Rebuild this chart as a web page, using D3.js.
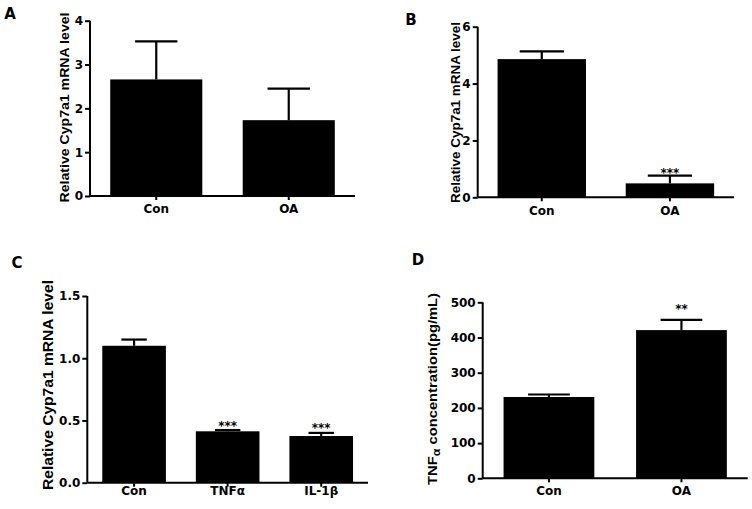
<!DOCTYPE html>
<html><head><meta charset="utf-8">
<script src="https://cdn.jsdelivr.net/npm/d3@7/dist/d3.min.js"></script>
<style>
html,body{margin:0;padding:0;background:#fff;}
svg{display:block;font-family:"DejaVu Sans",Arial,sans-serif;font-weight:bold;}
</style></head>
<body>
<svg id="c" width="752" height="509"></svg>
<script>
// ---- data ----
const catsA = ["Con", "OA"];
const valsA = [2.66, 1.73];
const errsA = [0.87, 0.72];
const sigA = ["", ""];
const ticksA = [0, 1, 2, 3, 4];

const catsB = ["Con", "OA"];
const valsB = [4.86, 0.49];
const errsB = [0.27, 0.27];
const sigB = ["", "***"];
const ticksB = [0, 2, 4, 6];

const catsC = ["Con", "TNFα", "IL-1β"];
const valsC = [1.10, 0.413, 0.375];
const errsC = [0.05, 0.01, 0.025];
const sigC = ["", "***", "***"];
const ticksC = [0, 0.5, 1.0, 1.5];

const catsD = ["Con", "OA"];
const valsD = [231, 421];
const errsD = [7, 29];
const sigD = ["", "**"];
const ticksD = [0, 100, 200, 300, 400, 500];

const yLabelCyp = "Relative Cyp7a1 mRNA level";

// ---- layout ----
const FONT = "'DejaVu Sans',Arial,sans-serif";
const LFONT = "'Liberation Sans',Arial,sans-serif";
const panels = [
  {letter:"A", lx:10, ly:19, cats:catsA, vals:valsA, errs:errsA, sig:sigA, ticks:ticksA, dom:[0,4], fmt:d3.format("d"),
   x0:90, x1:355, y0:196, y1:20.7, pad:0.305, cap:0.23, yl:{x:69, y:107.5, len:190, fs:13.5}, xlb:213, starOff:0},
  {letter:"B", lx:411, ly:25, cats:catsB, vals:valsB, errs:errsB, sig:sigB, ticks:ticksB, dom:[0,6], fmt:d3.format("d"),
   x0:477.7, x1:734, y0:197.3, y1:26.7, pad:0.31, cap:0.25, yl:{x:460, y:112.5, len:181, fs:12.5}, xlb:215, starOff:1},
  {letter:"C", lx:17, ly:268, cats:catsC, vals:valsC, errs:errsC, sig:sigC, ticks:ticksC, dom:[0,1.5], fmt:d3.format(".1f"),
   x0:87.3, x1:368, y0:482.7, y1:296, pad:0.32, cap:0.2, yl:{x:53, y:385, len:210, fs:14.5}, xlb:495, starOff:-0.5},
  {letter:"D", lx:418, ly:265, cats:catsD, vals:valsD, errs:errsD, sig:sigD, ticks:ticksD, dom:[0,500], fmt:d3.format("d"),
   x0:482.7, x1:747.7, y0:478.3, y1:302.3, pad:0.315, cap:0.23, yl:{x:437, y:389, len:192, fs:13.5, tnf:true}, xlb:495, starOff:-6.5}
];

const svg = d3.select("#c");

panels.forEach(p => {
  const g = svg.append("g");
  const x = d3.scaleBand().domain(p.cats).range([p.x0, p.x1]).paddingInner(p.pad).paddingOuter(p.pad/2);
  const y = d3.scaleLinear().domain(p.dom).range([p.y0, p.y1]);
  const bw = x.bandwidth();

  // bars
  g.selectAll("rect.bar").data(p.vals).enter().append("rect")
    .attr("x", (d,i) => x(p.cats[i])).attr("width", bw)
    .attr("y", d => y(d)).attr("height", d => y(0) - y(d))
    .attr("fill", "#000");

  // error bars (upper only)
  p.vals.forEach((v,i) => {
    const cx = x(p.cats[i]) + bw/2;
    const top = y(v + p.errs[i]);
    g.append("line").attr("x1", cx).attr("x2", cx).attr("y1", y(v)).attr("y2", top)
      .attr("stroke", "#000").attr("stroke-width", 2.2);
    g.append("line").attr("x1", cx - bw*p.cap).attr("x2", cx + bw*p.cap).attr("y1", top).attr("y2", top)
      .attr("stroke", "#000").attr("stroke-width", 2.2);
    if (p.sig[i]) {
      g.append("text").attr("x", cx).attr("y", top + p.starOff)
        .attr("text-anchor", "middle").attr("font-size", 12).text(p.sig[i]);
    }
  });

  // y axis
  const ya = d3.axisLeft(y).tickValues(p.ticks).tickFormat(p.fmt).tickSize(5).tickPadding(2);
  const yg = g.append("g").attr("transform", `translate(${p.x0},0)`).call(ya);
  yg.select(".domain").attr("d", `M-0,${p.y1}V${p.y0}`).attr("stroke-width", 2);
  yg.selectAll(".tick line").attr("stroke-width", 2);
  yg.selectAll(".tick text").attr("font-size", 12).attr("font-weight", "bold")
    .attr("font-family", FONT).attr("fill", "#000");

  // x axis
  const xa = d3.axisBottom(x).tickSize(4).tickPadding(5);
  const xg = g.append("g").attr("transform", `translate(0,${p.y0})`).call(xa);
  xg.select(".domain").attr("d", `M${p.x0},0H${p.x1}`).attr("stroke-width", 2);
  xg.selectAll(".tick line").attr("stroke-width", 2);
  xg.selectAll(".tick text").attr("font-size", 12).attr("font-weight", "bold")
    .attr("font-family", FONT).attr("fill", "#000")
    .attr("dy", null).attr("y", p.xlb - p.y0);

  // y label
  const t = g.append("text")
    .attr("transform", `translate(${p.yl.x},${p.yl.y}) rotate(-90)`)
    .attr("text-anchor", "middle").attr("font-size", p.yl.fs).attr("font-family", LFONT)
    .attr("textLength", p.yl.len).attr("lengthAdjust", "spacingAndGlyphs");
  if (p.yl.tnf) {
    t.append("tspan").text("TNF");
    t.append("tspan").attr("font-size", p.yl.fs*0.85).attr("dy", 3).text("α");
    t.append("tspan").attr("dy", -3).text(" concentration(pg/mL)");
  } else {
    t.text(yLabelCyp);
  }

  // panel letter
  g.append("text").attr("x", p.lx).attr("y", p.ly).attr("text-anchor", "middle")
    .attr("font-size", 15).text(p.letter);
});
</script>
</body></html>
